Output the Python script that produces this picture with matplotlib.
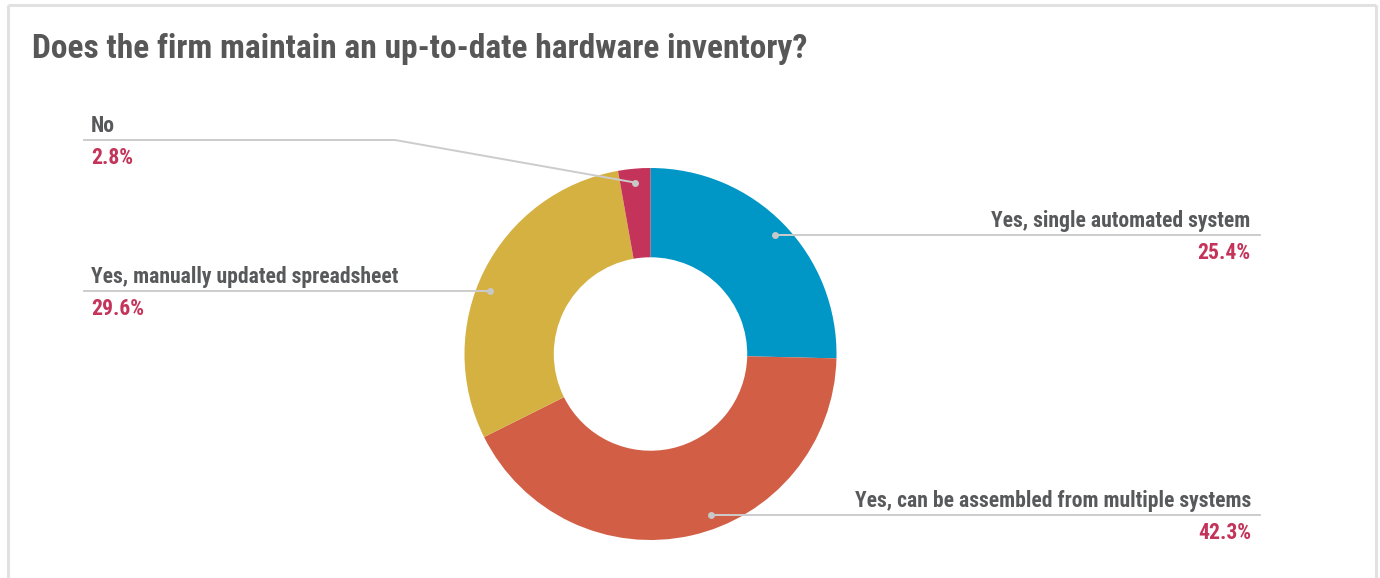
import matplotlib
matplotlib.use("Agg")
import matplotlib.pyplot as plt
from matplotlib import font_manager
import numpy as np

# ---- data ----
categories = ["Yes, single automated system",
              "Yes, can be assembled from multiple systems",
              "Yes, manually updated spreadsheet",
              "No"]
shares = [25.4, 42.3, 29.6, 2.8]
colors = ["#0097c7", "#d15e45", "#d4b141", "#c4345a"]
title = "Does the firm maintain an up-to-date hardware inventory?"

# ---- fonts: prefer a narrow sans ----
available = {f.name for f in font_manager.fontManager.ttflist}
family = "DejaVu Sans"
for cand in ["Roboto Condensed", "Liberation Sans Narrow", "Roboto", "Liberation Sans"]:
    if cand in available:
        family = cand
        break

W, H = 1380, 578
DPI = 100
fig = plt.figure(figsize=(W / DPI, H / DPI), dpi=DPI)
fig.patch.set_facecolor("white")
ax = fig.add_axes([0, 0, 1, 1])

def py(y):
    # pixel row (from top) -> data y
    return H - y

# frame border
border = "#e1e1e1"
ax.plot([8, 8], [py(5), py(600)], color=border, lw=2.2, solid_capstyle="butt")
ax.plot([8, 1376], [py(5), py(5)], color=border, lw=2.2, solid_capstyle="butt")
ax.plot([1376, 1376], [py(5), py(600)], color=border, lw=2.2, solid_capstyle="butt")

# donut
cx, cy, R = 650.5, 354, 186
wedges, _ = ax.pie(shares, colors=colors, startangle=90, counterclock=False,
                   center=(cx, py(cy)), radius=R,
                   wedgeprops=dict(width=R * 0.48, edgecolor="none"))

ax.set_xlim(0, W)
ax.set_ylim(0, H)
ax.set_aspect("equal")
ax.axis("off")

renderer = fig.canvas.get_renderer()

def fit_size(text, target_w, base=20):
    t = ax.text(0, 0, text, fontsize=base, fontweight="bold", family=family)
    w = t.get_window_extent(renderer=renderer).width
    t.remove()
    return base * target_w / w

title_size = fit_size(title, 774)
ax.text(32, py(49), title, fontsize=title_size, fontweight="bold",
        family=family, color="#575757", va="center", ha="left")

label_size = fit_size(categories[1], 398, 15)
name_color = "#58595b"
pct_color = "#c4345a"
line_color = "#cccccc"
dot_color = "#c8c8c8"
r_dot = 0.925 * R

# label layout: (side, row of the leader line, text edge x, line end x)
layout = {
    0: ("right", 235, 1250, 1260),
    1: ("right", 515, 1251, 1260),
    2: ("left", 291, 91, 84),
    3: ("left", 140, 91, 84),
}

for i, w in enumerate(wedges):
    side, ly, tx, lx = layout[i]
    dy = cy - ly
    if abs(dy) < r_dot * 0.95:
        dx = np.sqrt(r_dot ** 2 - dy ** 2) * (1 if side == "right" else -1)
        dot = (cx + dx, py(ly))
        ax.plot([dot[0], lx], [dot[1], dot[1]], color=line_color, lw=1.4, zorder=3)
    else:
        mid = np.deg2rad((w.theta1 + w.theta2) / 2)
        dot = (cx + r_dot * np.cos(mid), py(cy) + r_dot * np.sin(mid))
        knee = 395
        ax.plot([dot[0], knee, lx], [dot[1], py(ly), py(ly)],
                color=line_color, lw=1.4, zorder=3)
    ax.plot(dot[0], dot[1], "o", ms=5, color=dot_color, mec="none", zorder=4)
    ha = "right" if side == "right" else "left"
    ax.text(tx, py(ly - 8), categories[i], fontsize=label_size, fontweight="bold",
            family=family, color=name_color, ha=ha, va="baseline")
    ax.text(tx, py(ly + 24), f"{shares[i]:.1f}%", fontsize=label_size,
            fontweight="bold", family=family, color=pct_color, ha=ha, va="baseline")

fig.savefig("out.png", dpi=DPI, facecolor="white")
